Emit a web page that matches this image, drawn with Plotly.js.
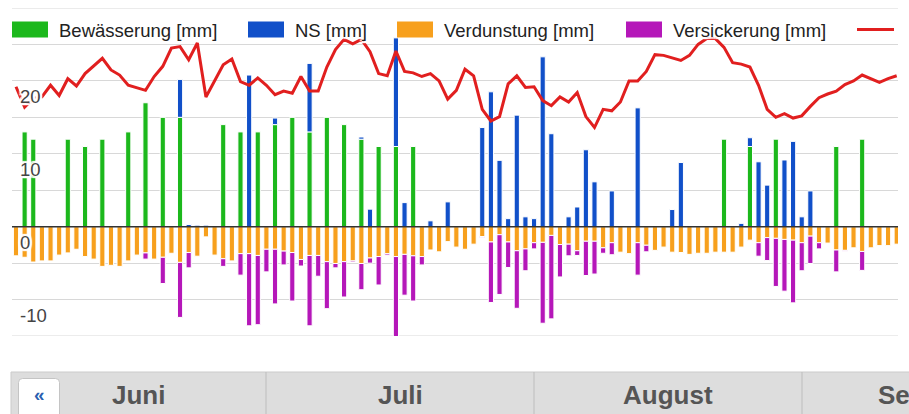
<!DOCTYPE html>
<html>
<head>
<meta charset="utf-8">
<script src="https://cdn.plot.ly/plotly-3.0.1.min.js"></script>
<style>
html,body{margin:0;padding:0;overflow:hidden;background:#fff}
#chart{width:909px;height:414px}
</style>
</head>
<body>
<div id="chart"></div>
<script>
// ---------- data ----------
const seriesNames = ['Bewässerung [mm]', 'NS [mm]', 'Verdunstung [mm]', 'Versickerung [mm]', 'Temperatur [°C]'];
const months = ['Juni', 'Juli', 'August', 'September'];
const yTicks = [-10, 0, 10, 20];
const yRange = [-15, 30];

const bewaesserung = [
  null, 13, 12, null, null, null, 12, null, 11, null,
  12, null, null, 13, null, 17, null, 15, null, 15,
  null, null, null, null, 14, null, 13, null, 13, null,
  14, null, 15, null, 13, null, 15, null, 14, null,
  12, null, 11, null, 11, null, 11, null, null, null,
  null, null, null, null, null, null, null, null, null, null,
  null, null, null, null, null, null, null, null, null, null,
  null, null, null, null, null, null, null, null, null, null,
  null, null, 12, null, null, 11, null, null, 12, null,
  null, null, null, null, null, 11, null, null, 12, null,
  null, null, null
];

const niederschlag = [
  null, null, null, null, null, null, null, null, null, null,
  null, null, null, null, null, null, null, null, null, 5.2,
  0.3, 0.2, 0.2, null, null, null, null, 20.8, null, null,
  0.9, null, null, null, 9.4, null, null, null, null, null,
  0.3, 2.4, null, null, 14.9, 3.3, null, null, 0.8, null,
  3.4, null, null, null, 13.6, 18.5, 9.1, 1.1, 15.3, 1.35,
  1.1, 23.3, 12.75, null, 1.35, 2.7, 10.55, 6.15, null, 4.9,
  null, null, 16.3, null, null, null, 2.35, 8.8, null, null,
  null, null, null, null, 0.45, 1.2, 8.9, 5.7, null, 9.15,
  11.7, 1.35, 4.9, null, null, null, null, null, null, null,
  null, null, null
];

const verdunstung = [
  -4.0, -4.2, -4.85, -4.7, -4.7, -3.9, -3.6, -3.1, -4.1, -4.45,
  -5.45, -5.3, -5.45, -4.7, -3.9, -3.6, -4.45, -4.2, -3.65, -4.9,
  -3.55, -4.05, -1.4, -3.9, -4.4, -4.7, -3.7, -3.7, -3.95, -3.1,
  -3.1, -3.35, -3.55, -4.5, -3.95, -3.95, -4.8, -5.05, -4.8, -4.7,
  -5.05, -4.3, -4.1, -3.7, -4.1, -3.8, -4.0, -4.1, -3.2, -3.45,
  -2.05, -2.8, -3.1, -2.4, -1.35, -2.1, -1.1, -2.1, -3.3, -3.05,
  -2.2, -2.15, -1.2, -2.45, -2.4, -3.3, -2.0, -2.0, -2.9, -2.2,
  -3.5, -3.7, -2.2, -2.55, -3.25, -2.8, -3.5, -3.55, -3.8, -3.65,
  -3.65, -3.5, -3.5, -3.5, -2.8, -1.85, -2.2, -1.5, -1.6, -1.75,
  -1.85, -2.2, -1.3, -2.2, -2.25, -3.2, -3.25, -2.9, -3.4, -2.9,
  -2.6, -2.6, -2.4
];

const versickerung = [
  null, null, null, null, null, null, null, null, null, null,
  null, null, null, null, null, -0.85, null, -3.6, null, -7.55,
  -2.1, null, null, null, -1.05, null, -2.95, -9.9, -9.5, -3.1,
  -7.5, -1.9, -6.65, -0.9, -9.65, -2.85, -6.45, -0.6, -4.85, -0.15,
  -3.6, -0.7, -3.9, -0.2, -11.7, -5.6, -6.2, -1.15, null, null,
  null, null, null, null, -0.15, -8.3, -8.2, -3.5, -7.9, -3.0,
  -0.85, -11.1, -11.45, -4.45, -1.6, -0.65, -4.7, -4.5, -0.75, -1.65,
  null, null, -4.45, -0.9, null, null, null, null, null, null,
  null, null, null, null, null, null, -1.85, -3.15, -6.6, -7.1,
  -8.6, -3.85, -3.75, -0.85, null, -3.0, -0.1, null, -2.6, null,
  null, null, null
];

const temperatur = [
  19.2, 16.4, 17.6, 17.8, 19.4, 18.0, 20.3, 19.3, 21.0, 22.1,
  23.1, 21.5, 20.8, 19.4, 19.0, 18.7, 20.6, 22.0, 24.5, 24.7,
  22.9, 25.2, 17.8, 20.1, 22.2, 23.0, 19.9, 19.4, 20.4, 19.4,
  18.1, 18.6, 18.3, 20.6, 18.6, 18.6, 21.9, 24.3, 25.7, 25.1,
  25.7, 24.0, 21.0, 20.7, 24.1, 21.3, 21.1, 20.6, 21.0, 20.0,
  17.5, 18.7, 21.6, 20.7, 16.1, 14.5, 15.1, 19.6, 20.7, 19.1,
  19.2, 17.3, 16.6, 17.8, 17.1, 18.4, 15.1, 13.6, 16.1, 15.9,
  17.1, 20.0, 20.0, 21.3, 23.6, 23.5, 23.2, 22.8, 23.5, 25.0,
  25.8, 25.8, 24.6, 22.5, 22.3, 21.9, 19.4, 16.1, 15.0, 15.5,
  14.9, 15.2, 16.5, 17.7, 18.2, 18.6, 19.5, 20.0, 20.8, 20.3,
  19.8, 20.3, 20.7
];

const days = temperatur.map((_, i) => i);

// ---------- styling ----------
const colors = ['#1cb81c', '#1150c9', '#f7a01d', '#b517b9', '#e11f1f'];
const FONT = 'Liberation Sans, Arial, sans-serif';
const HALO = '2px 0 1px #fff, -2px 0 1px #fff, 0 2px 1px #fff, 0 -2px 1px #fff, 2px 2px 1px #fff, -2px -2px 1px #fff, 2px -2px 1px #fff, -2px 2px 1px #fff';
const GRID = '#d8d8d8';

const W = 909, H = 414, ML = 12, MR = 11, MT = 8, MB = 78;
const PW = W - ML - MR, PH = H - MT - MB;
const px = x => (x - ML) / PW;          // pixel -> paper x
const py = y => (H - MB - y) / PH;      // pixel -> paper y

const barW = 0.6;
const barLine = {color: '#ffffff', width: 1};

const traces = [
  {type: 'bar', x: days, y: bewaesserung, name: seriesNames[0], width: barW,
   marker: {color: colors[0], line: barLine}},
  {type: 'bar', x: days, y: niederschlag, name: seriesNames[1], width: barW,
   marker: {color: colors[1], line: barLine}},
  {type: 'bar', x: days, y: verdunstung, name: seriesNames[2], width: barW,
   marker: {color: colors[2], line: barLine}},
  {type: 'bar', x: days, y: versickerung, name: seriesNames[3], width: barW,
   marker: {color: colors[3], line: barLine}},
  {type: 'scatter', mode: 'lines', x: days, y: temperatur, name: seriesNames[4],
   line: {color: colors[4], width: 3, shape: 'linear'}}
];

const shapes = [];
const annotations = [];

// gridlines at the range edges (top & bottom of the plot area)
yRange.forEach(v => shapes.push({type: 'line', xref: 'paper', yref: 'y', layer: 'below',
  x0: 0, x1: 1, y0: v, y1: v, line: {color: GRID, width: 1}}));

// ---------- legend (drawn manually) ----------
const legendSwatchX = [12, 248, 397, 626, 857];
const legendY = 29.5;

for (let k = 0; k < 4; k++) {
  shapes.push({type: 'rect', xref: 'paper', yref: 'paper', layer: 'above',
    x0: px(legendSwatchX[k]), x1: px(legendSwatchX[k] + 36),
    y0: py(legendY + 8), y1: py(legendY - 8),
    fillcolor: colors[k], line: {width: 0}});
}
shapes.push({type: 'line', xref: 'paper', yref: 'paper', layer: 'above',
  x0: px(legendSwatchX[4]), x1: px(legendSwatchX[4] + 37),
  y0: py(legendY), y1: py(legendY), line: {color: colors[4], width: 3}});

for (let k = 0; k < 5; k++) {
  annotations.push({xref: 'paper', yref: 'paper', showarrow: false,
    x: px(legendSwatchX[k] + (k === 4 ? 53 : 45)), y: py(legendY + 1),
    xanchor: 'left', yanchor: 'middle', text: seriesNames[k],
    font: {family: FONT, size: 18.5, color: '#222', shadow: HALO}});
}

// zero line above bars
shapes.push({type: 'line', xref: 'paper', yref: 'y', layer: 'above',
  x0: 0, x1: 1, y0: 0, y1: 0, line: {color: '#333', width: 1.5}});

// ---------- month navigation bar ----------
const navTop = 372, navLeft = 11;
shapes.push({type: 'rect', xref: 'paper', yref: 'paper', layer: 'above',
  x0: px(navLeft), x1: px(1000), y0: py(440), y1: py(navTop),
  fillcolor: '#dddddd', line: {color: '#cbcbcb', width: 1}});
const sepX = [266, 534, 802];
sepX.forEach(sx => shapes.push({type: 'line', xref: 'paper', yref: 'paper', layer: 'above',
  x0: px(sx), x1: px(sx), y0: py(navTop), y1: py(440),
  line: {color: '#bdbdbd', width: 1}}));
// rounded white button
{
  const bx0 = px(18.5), bx1 = px(59.5), by0 = py(378.5), byb = py(440);
  const rx = 4 / PW, ry = 4 / PH;
  const path = `M ${bx0} ${byb} L ${bx0} ${by0 - ry} Q ${bx0} ${by0} ${bx0 + rx} ${by0} ` +
               `L ${bx1 - rx} ${by0} Q ${bx1} ${by0} ${bx1} ${by0 - ry} L ${bx1} ${byb} Z`;
  shapes.push({type: 'path', xref: 'paper', yref: 'paper', layer: 'above', path: path,
    fillcolor: '#ffffff', line: {color: '#c4c4c4', width: 1}});
}
annotations.push({xref: 'paper', yref: 'paper', showarrow: false,
  x: px(39), y: py(394), xanchor: 'center', yanchor: 'middle', text: '«',
  font: {family: FONT, size: 19, color: '#2a5fb0', weight: 'bold'}});
const monthCenters = [138, 400, 668, 945];
months.forEach((m, k) => annotations.push({xref: 'paper', yref: 'paper', showarrow: false,
  x: px(monthCenters[k]), y: py(395), xanchor: 'center', yanchor: 'middle', text: '<b>' + m + '</b>',
  font: {family: FONT, size: 26, color: '#555555'}}));

const layout = {
  width: W, height: H,
  margin: {l: ML, r: MR, t: MT, b: MB, pad: 0},
  paper_bgcolor: '#ffffff', plot_bgcolor: '#ffffff',
  barmode: 'relative',
  showlegend: false,
  hovermode: false,
  font: {family: FONT},
  xaxis: {range: [-0.463, 102.15], showgrid: false, zeroline: false,
          showticklabels: false, ticks: '', showline: false, fixedrange: true},
  yaxis: {range: yRange, tickvals: yTicks, ticktext: yTicks.map(String),
          showgrid: true, gridcolor: GRID, gridwidth: 1,
          minor: {dtick: 5, tick0: 0, showgrid: true, gridcolor: GRID, gridwidth: 1},
          zeroline: false, showline: false, ticks: '',
          ticklabelposition: 'inside', ticklabelshift: 16, ticklabelstandoff: 5,
          tickfont: {family: FONT, size: 18.5, color: '#444', shadow: HALO},
          fixedrange: true},
  shapes: shapes,
  annotations: annotations
};

Plotly.newPlot('chart', traces, layout, {staticPlot: true, displayModeBar: false});
</script>
</body>
</html>
